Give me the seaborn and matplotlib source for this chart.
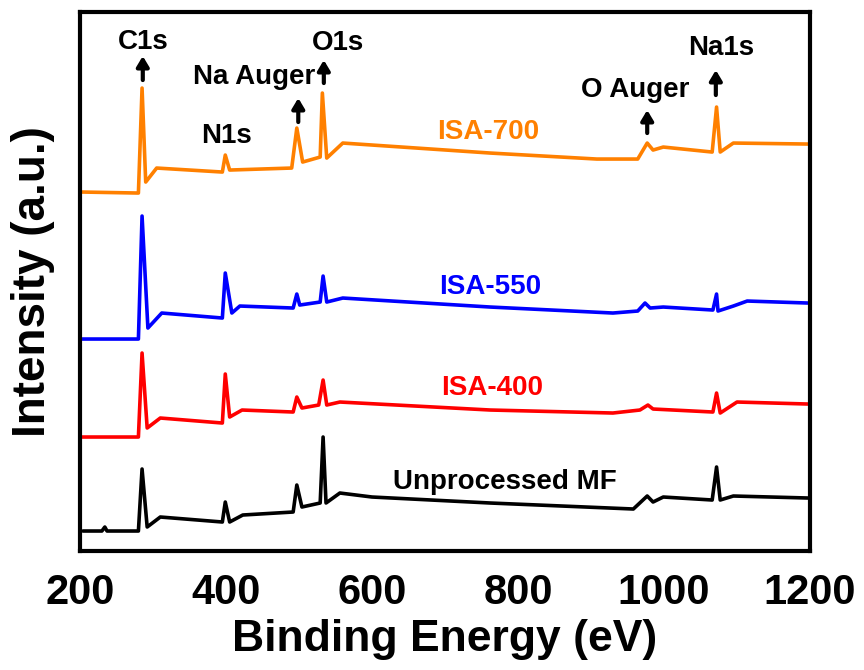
# XPS survey spectra of the MF samples
import numpy as np
import pandas as pd
import matplotlib.pyplot as plt
import seaborn as sns

sns.set_style('white')
plt.rcParams['font.family'] = ['Liberation Sans', 'DejaVu Sans']
plt.rcParams['font.weight'] = 'bold'
plt.rcParams['text.color'] = 'black'
plt.rcParams['axes.labelcolor'] = 'black'
plt.rcParams['xtick.color'] = 'black'

# binding energy (eV) / intensity (a.u., already vertically offset)
e_700 = [203, 280, 285, 290, 305, 395, 399, 405, 490, 497, 505, 529, 532, 538, 560,
         762, 908, 964, 977, 985, 999, 1066, 1072, 1077, 1095, 1197]
i_700 = [359, 358, 463, 369, 383, 379, 396, 381, 383, 423, 389, 394, 458, 393, 408,
         398, 392, 392, 408, 401, 404, 399, 444, 399, 408, 407]

e_550 = [203, 280, 285, 293, 312, 395, 399, 408, 419, 492, 497, 501, 529, 533, 538, 560,
         762, 930, 964, 974, 981, 999, 1067, 1072, 1074, 1095, 1114, 1197]
i_550 = [212, 212, 335, 223, 238, 233, 278, 238, 245, 243, 257, 246, 249, 275, 249, 253,
         244, 238, 240, 248, 243, 244, 241, 257, 240, 245, 250, 248]

e_400 = [203, 280, 285, 292, 310, 395, 399, 405, 422, 492, 497, 504, 527, 533, 538, 556,
         762, 930, 967, 978, 985, 1067, 1072, 1077, 1100, 1197]
i_400 = [114, 114, 198, 123, 133, 128, 177, 134, 141, 139, 154, 143, 146, 171, 146, 149,
         141, 138, 141, 146, 142, 139, 158, 138, 149, 147]

e_mf = [204, 230, 234, 237, 280, 285, 292, 310, 395, 399, 405, 423, 492, 497, 504, 529, 533,
        537, 556, 600, 762, 958, 977, 985, 999, 1066, 1072, 1077, 1095, 1197]
i_mf = [20, 20, 24, 20, 20, 82, 24, 34, 29, 49, 29, 36, 39, 66, 44, 48, 114,
        48, 58, 54, 48, 42, 55, 49, 54, 51, 84, 51, 55, 53]

samples = ['ISA-700', 'ISA-550', 'ISA-400', 'Unprocessed MF']
colors = ['#ff8000', '#0000ff', '#ff0000', '#000000']
energies = [e_700, e_550, e_400, e_mf]
intensities = [i_700, i_550, i_400, i_mf]

# sample label positions (eV, a.u.)
label_pos = [(759, 419), (762, 264), (764, 163), (782, 69)]

# peak assignments: text position, arrow (x, tail, head)
peak_names = ['C1s', 'N1s', 'Na Auger', 'O1s', 'O Auger', 'Na1s']
peak_text = [(286, 509), (400, 415), (438, 474), (553, 508), (960, 461), (1079, 503)]
arrows = [(286, 471, 495), (499, 429, 453), (534, 468, 491), (977, 418, 441), (1071, 456, 481)]

df = pd.concat([pd.DataFrame({'energy': e, 'intensity': i, 'sample': s})
                for e, i, s in zip(energies, intensities, samples)])

fig, ax = plt.subplots(figsize=(8.64, 6.70), dpi=100)
fig.subplots_adjust(left=0.0926, right=0.9375, top=0.982, bottom=0.1776)

for s, c in zip(samples, colors):
    sns.lineplot(data=df[df['sample'] == s], x='energy', y='intensity', color=c,
                 lw=2.6, sort=False, estimator=None, ax=ax)

for s, c, (x, y) in zip(samples, colors, label_pos):
    ax.text(x, y, s, color=c, fontsize=20, fontweight='bold', ha='center', va='center')

for name, (x, y) in zip(peak_names, peak_text):
    ax.text(x, y, name, color='black', fontsize=20, fontweight='bold', ha='center', va='center')

for x, y0, y1 in arrows:
    ax.annotate('', xy=(x, y1), xytext=(x, y0),
                arrowprops=dict(arrowstyle='-|>,head_width=0.3,head_length=0.5',
                                lw=3, color='black', shrinkA=0, shrinkB=0,
                                mutation_scale=12))

ax.set_xlim(200, 1200)
ax.set_ylim(0, 539)
ax.set_xticks([200, 400, 600, 800, 1000, 1200])
ax.set_yticks([])
ax.tick_params(axis='x', direction='in', length=7, width=2.5, pad=16, labelsize=30,
               colors='black')
for lab in ax.get_xticklabels():
    lab.set_fontweight('bold')
for sp in ax.spines.values():
    sp.set_linewidth(3)
    sp.set_color('black')

ax.set_xlabel('Binding Energy (eV)', fontsize=32, fontweight='bold', labelpad=4, color='black')
ax.set_ylabel('Intensity (a.u.)', fontsize=33, fontweight='bold', labelpad=18, color='black')

fig.savefig('out.png', dpi=100)
